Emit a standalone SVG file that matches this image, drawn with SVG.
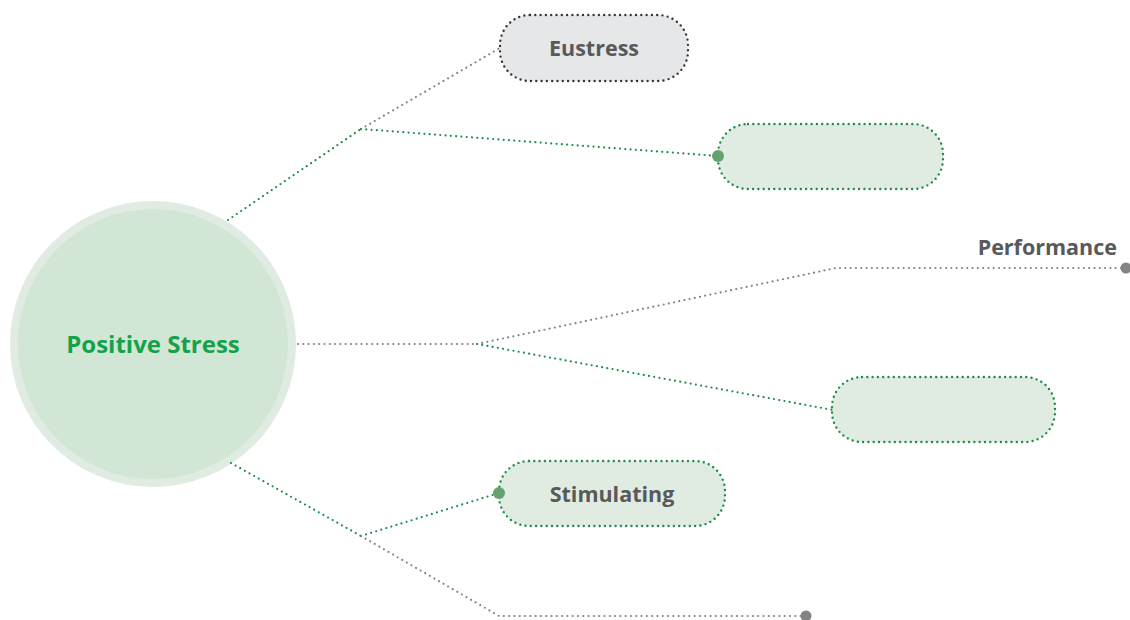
<svg xmlns="http://www.w3.org/2000/svg" width="1130" height="620" viewBox="0 0 1130 620">
<style>
.g{fill:none;stroke:#1a8c47;stroke-width:2.2;stroke-linecap:round;stroke-dasharray:0 5.3}
.k{fill:none;stroke:#838386;stroke-width:2.2;stroke-linecap:round;stroke-dasharray:0 5.3}
.gn{fill:#e0ebe2;stroke:#1a8c47;stroke-width:2.4;stroke-linecap:round;stroke-dasharray:0 5.3}
.t{font-family:"Open Sans","Liberation Sans",sans-serif;font-weight:700;font-size:21.5px;fill:#58595b;text-anchor:middle}
</style>
<g id="node-positive-stress">
<circle cx="153" cy="344" r="143" fill="#e0ebe2"/>
<circle cx="153" cy="344" r="135" fill="#d2e6d5"/>
<text x="153" y="353" font-family="Open Sans, Liberation Sans, sans-serif" font-weight="700" font-size="24" fill="#12a34a" text-anchor="middle">Positive Stress</text>
</g>
<g id="node-eustress">
<rect x="500" y="15" width="188" height="66" rx="30" fill="#e6e7e9" stroke="#333" stroke-width="2.4" stroke-linecap="round" stroke-dasharray="0 5.3"/>
<text class="t" x="594" y="56">Eustress</text>
</g>
<g id="node-blank1">
<rect class="gn" x="718" y="124" width="225" height="65" rx="30"/>
</g>
<g id="node-performance">
<text class="t" x="1117" y="255" style="text-anchor:end">Performance</text>
</g>
<g id="node-blank2">
<rect class="gn" x="832" y="377" width="223" height="65" rx="30"/>
</g>
<g id="node-stimulating">
<rect class="gn" x="499" y="461" width="226" height="65" rx="30"/>
<text class="t" x="612" y="502">Stimulating</text>
</g>
<g id="connectors">
<polyline class="g" points="228,220 361,129"/>
<polyline class="k" points="361,129 500,48"/>
<polyline class="g" points="361,129 718,156"/>
<circle cx="718" cy="156" r="6" fill="#65a270"/>
<polyline class="k" points="298,344 477,344"/>
<polyline class="k" points="477,344 836,268 1126,268"/>
<circle cx="1126" cy="268" r="5.5" fill="#838386"/>
<polyline class="g" points="477,344 833,410"/>
<polyline class="g" points="231,463 361,536"/>
<polyline class="g" points="361,536 499,493"/>
<circle cx="499" cy="493" r="6" fill="#65a270"/>
<polyline class="k" points="361,536 499,616 806,616"/>
<circle cx="806" cy="616" r="5.5" fill="#838386"/>
</g>
</svg>
